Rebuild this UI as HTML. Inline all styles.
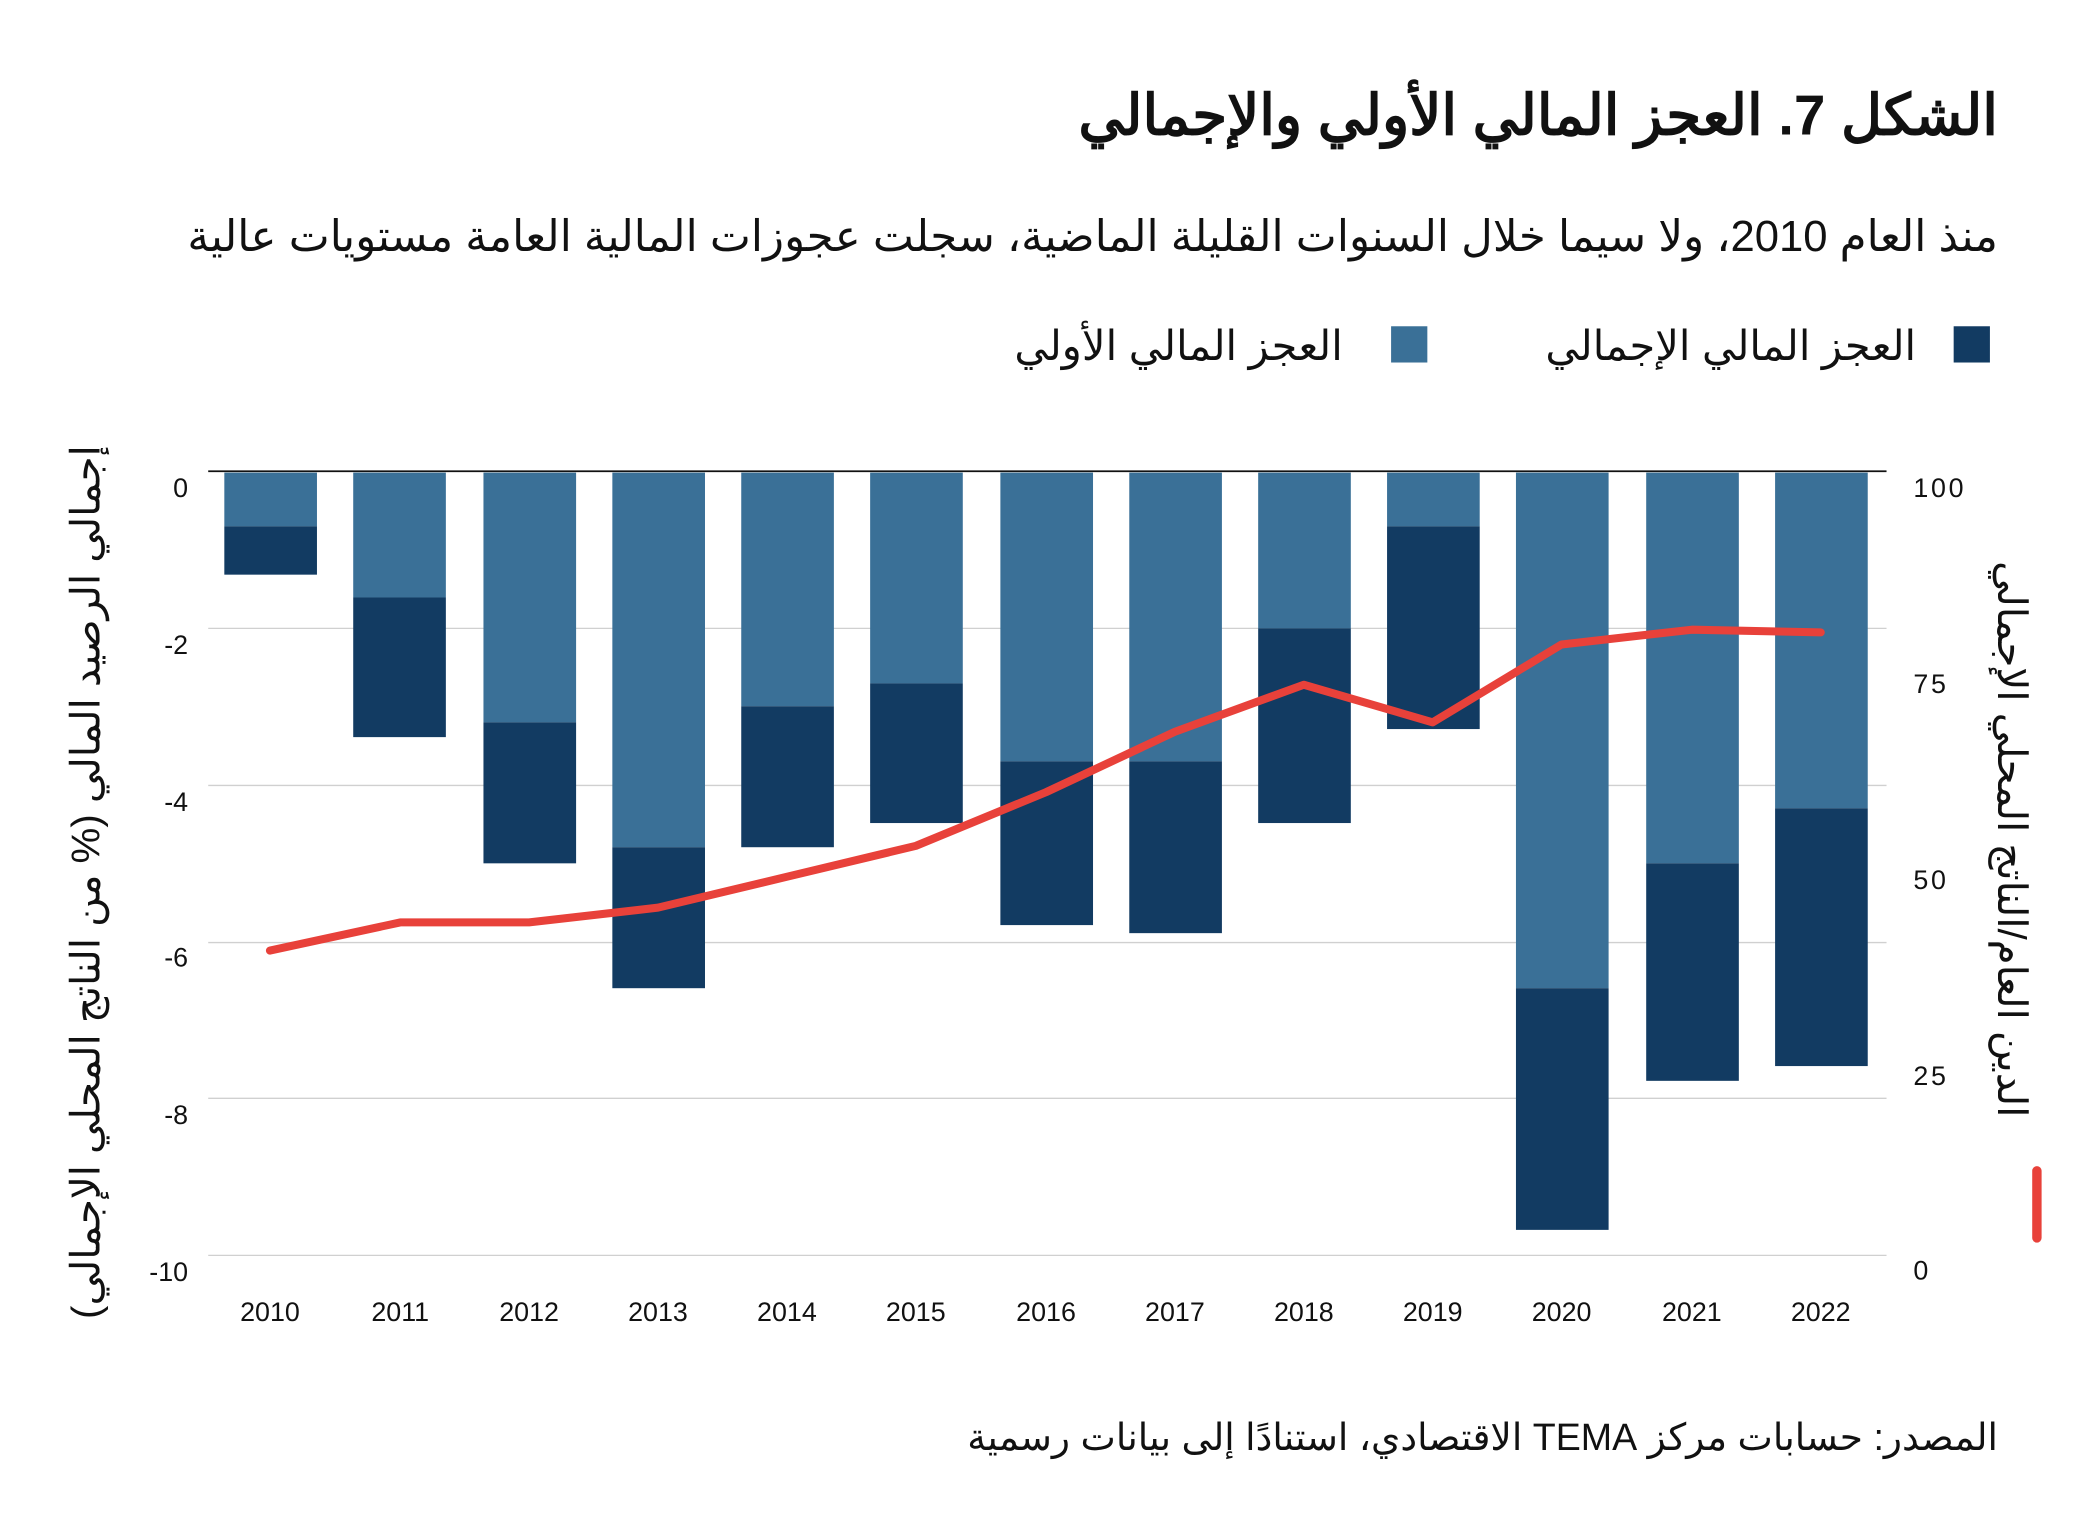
<!DOCTYPE html>
<html><head><meta charset="utf-8"><style>
html,body{margin:0;padding:0;background:#fff;}
svg{display:block;}
text{font-family:"Liberation Sans","Noto Sans CJK SC",sans-serif;fill:#111;}
</style></head><body>
<svg width="2084" height="1536" viewBox="0 0 1552 1144" xmlns="http://www.w3.org/2000/svg">
<rect width="1552" height="1144" fill="#fff"/>
<text x="1488" y="100" text-anchor="start" direction="rtl" font-size="42" font-weight="bold">الشكل 7. العجز المالي الأولي والإجمالي</text>
<text x="1488" y="187" text-anchor="start" direction="rtl" font-size="32.5">منذ العام 2010، ولا سيما خلال السنوات القليلة الماضية، سجلت عجوزات المالية العامة مستويات عالية</text>
<rect x="1455" y="243" width="27" height="27" fill="#123b62"/>
<text x="1427" y="268" text-anchor="start" direction="rtl" font-size="31">العجز المالي الإجمالي</text>
<rect x="1036" y="243" width="27" height="27" fill="#3a7097"/>
<text x="1000" y="268" text-anchor="start" direction="rtl" font-size="31">العجز المالي الأولي</text>
<g stroke="#d0d0d0" stroke-width="1">
<line x1="155" x2="1405" y1="468" y2="468"/><line x1="155" x2="1405" y1="585" y2="585"/>
<line x1="155" x2="1405" y1="702" y2="702"/><line x1="155" x2="1405" y1="818" y2="818"/>
<line x1="155" x2="1405" y1="935" y2="935"/>
</g>
<g font-size="20" text-anchor="end">
<text x="140" y="370">0</text><text x="140" y="487">-2</text><text x="140" y="604">-4</text>
<text x="140" y="720">-6</text><text x="140" y="837">-8</text><text x="140" y="954">-10</text>
</g>
<g font-size="20" text-anchor="start" letter-spacing="2">
<text x="1425" y="370">100</text><text x="1425" y="516">75</text><text x="1425" y="662">50</text>
<text x="1425" y="808">25</text><text x="1425" y="953">0</text>
</g>
<g>
<rect x="167" y="352" width="69" height="40" fill="#3a7097"/><rect x="167" y="392" width="69" height="36" fill="#123b62"/>
<rect x="263" y="352" width="69" height="93" fill="#3a7097"/><rect x="263" y="445" width="69" height="104" fill="#123b62"/>
<rect x="360" y="352" width="69" height="186" fill="#3a7097"/><rect x="360" y="538" width="69" height="105" fill="#123b62"/>
<rect x="456" y="352" width="69" height="279" fill="#3a7097"/><rect x="456" y="631" width="69" height="105" fill="#123b62"/>
<rect x="552" y="352" width="69" height="174" fill="#3a7097"/><rect x="552" y="526" width="69" height="105" fill="#123b62"/>
<rect x="648" y="352" width="69" height="157" fill="#3a7097"/><rect x="648" y="509" width="69" height="104" fill="#123b62"/>
<rect x="745" y="352" width="69" height="215" fill="#3a7097"/><rect x="745" y="567" width="69" height="122" fill="#123b62"/>
<rect x="841" y="352" width="69" height="215" fill="#3a7097"/><rect x="841" y="567" width="69" height="128" fill="#123b62"/>
<rect x="937" y="352" width="69" height="116" fill="#3a7097"/><rect x="937" y="468" width="69" height="145" fill="#123b62"/>
<rect x="1033" y="352" width="69" height="40" fill="#3a7097"/><rect x="1033" y="392" width="69" height="151" fill="#123b62"/>
<rect x="1129" y="352" width="69" height="384" fill="#3a7097"/><rect x="1129" y="736" width="69" height="180" fill="#123b62"/>
<rect x="1226" y="352" width="69" height="291" fill="#3a7097"/><rect x="1226" y="643" width="69" height="162" fill="#123b62"/>
<rect x="1322" y="352" width="69" height="250" fill="#3a7097"/><rect x="1322" y="602" width="69" height="192" fill="#123b62"/>
</g>
<line x1="155" x2="1405" y1="351" y2="351" stroke="#111" stroke-width="1.3"/>
<polyline fill="none" stroke="#e8413a" stroke-width="6" stroke-linecap="round" stroke-linejoin="round"
points="201,708 298,687 394,687 490,676 586,653 682,630 779,590 875,545 971,510 1067,538 1163,480 1260,469 1356,471"/>
<g font-size="20" text-anchor="middle">
<text x="201" y="984">2010</text><text x="298" y="984">2011</text><text x="394" y="984">2012</text>
<text x="490" y="984">2013</text><text x="586" y="984">2014</text><text x="682" y="984">2015</text>
<text x="779" y="984">2016</text><text x="875" y="984">2017</text><text x="971" y="984">2018</text>
<text x="1067" y="984">2019</text><text x="1163" y="984">2020</text><text x="1260" y="984">2021</text>
<text x="1356" y="984">2022</text>
</g>
<text transform="translate(74,657) rotate(-90)" text-anchor="middle" direction="rtl" font-size="30">إجمالي الرصيد المالي (% من الناتج المحلي الإجمالي)</text>
<text transform="translate(1488,625) rotate(90)" text-anchor="middle" direction="rtl" font-size="30">الدين العام/الناتج المحلي الإجمالي</text>
<line x1="1517" x2="1517" y1="872" y2="922" stroke="#e8413a" stroke-width="7" stroke-linecap="round"/>
<text x="1488" y="1080" text-anchor="start" direction="rtl" font-size="28">المصدر: حسابات مركز TEMA الاقتصادي، استنادًا إلى بيانات رسمية</text>
</svg>
</body></html>
